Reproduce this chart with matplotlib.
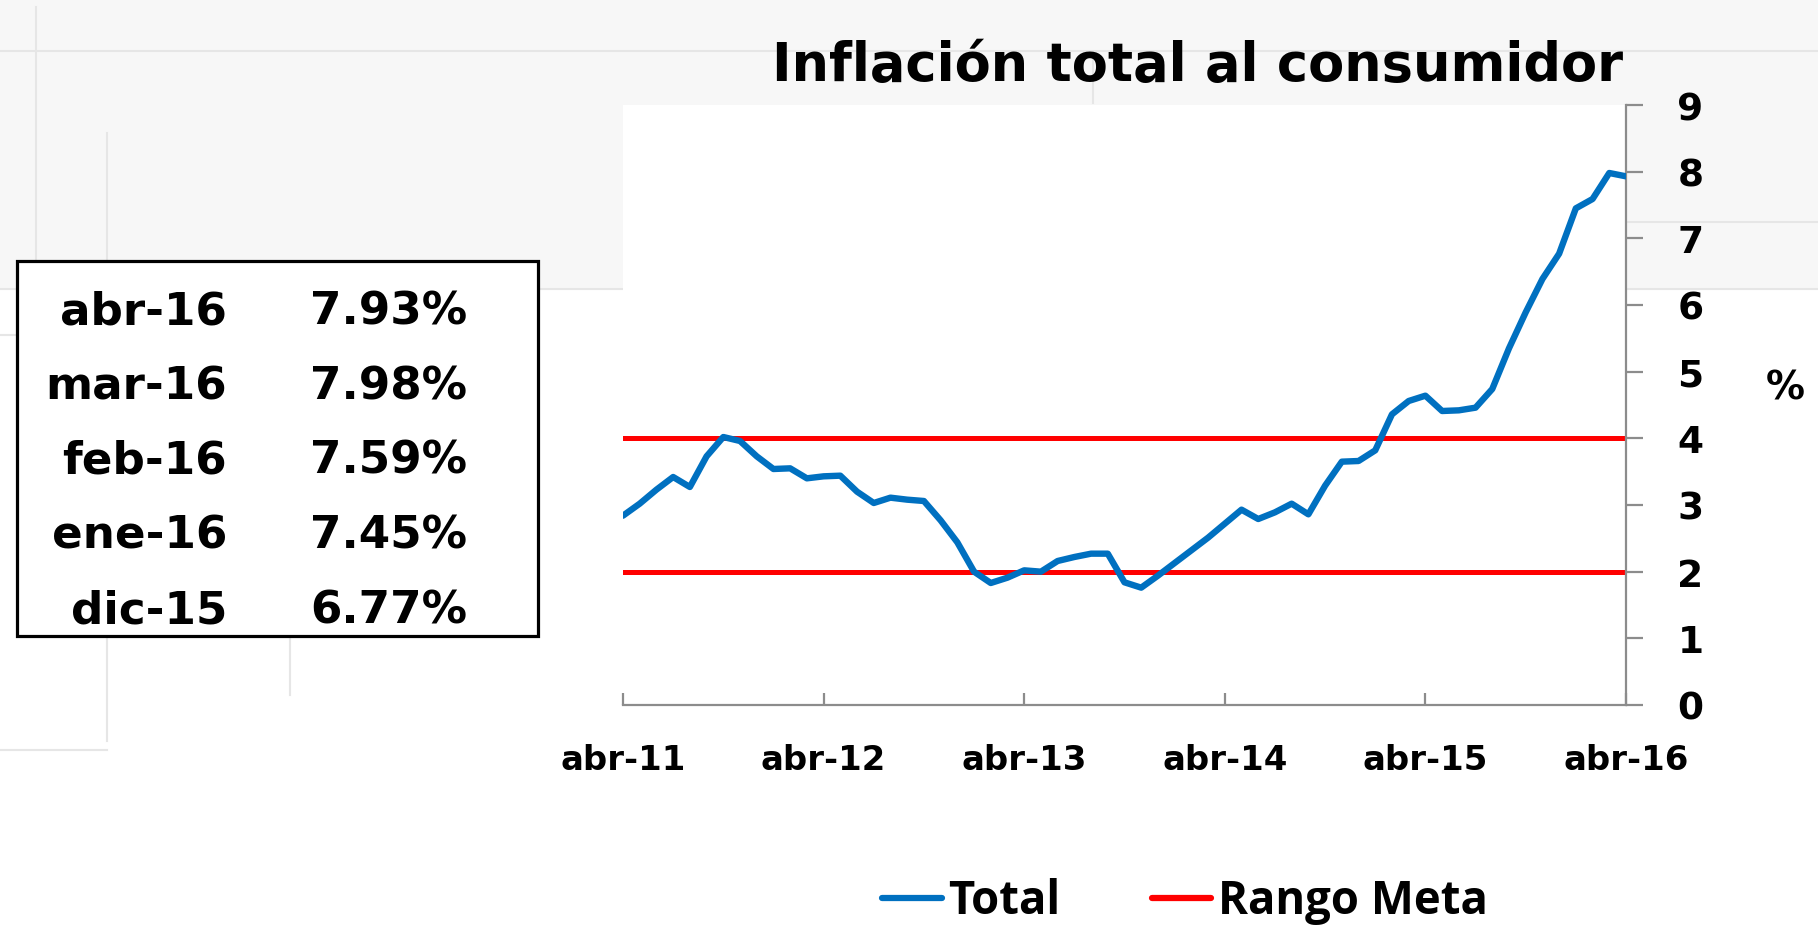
import matplotlib
matplotlib.use("Agg")
import matplotlib.pyplot as plt
import numpy as np
from matplotlib.lines import Line2D
from matplotlib.patches import Rectangle

# monthly annual CPI inflation, abr-11 .. abr-16
inflacion = [
    2.84, 3.02, 3.23, 3.42, 3.27, 3.73, 4.02, 3.96, 3.73,
    3.54, 3.55, 3.40, 3.43, 3.44, 3.20, 3.03, 3.11, 3.08, 3.06, 2.77, 2.44,
    2.00, 1.83, 1.91, 2.02, 2.00, 2.16, 2.22, 2.27, 2.27, 1.84, 1.76, 1.94,
    2.13, 2.32, 2.51, 2.72, 2.93, 2.79, 2.89, 3.02, 2.86, 3.29, 3.65, 3.66,
    3.82, 4.36, 4.56, 4.64, 4.41, 4.42, 4.46, 4.74, 5.35, 5.89, 6.39, 6.77,
    7.45, 7.59, 7.98, 7.93,
]
rango_meta = [2, 4]
x_ticks = [0, 12, 24, 36, 48, 60]
x_labels = ["abr-11", "abr-12", "abr-13", "abr-14", "abr-15", "abr-16"]
y_ticks = list(range(0, 10))
tabla_meses = ["abr-16", "mar-16", "feb-16", "ene-16", "dic-15"]

W, H = 1818, 937
fig = plt.figure(figsize=(W / 100, H / 100), dpi=100)
fig.patch.set_facecolor("white")

def fx(px):
    return px / W

def fy(py):
    return 1 - py / H

# slide background: light gray top band and faint lines (behind the axes)
fig.add_artist(Rectangle((0, fy(290)), 1, 1 - fy(290), transform=fig.transFigure,
                         facecolor="#f7f7f7", edgecolor="none", zorder=-2))
bg = "#e6e6e6"
for (x0, y0, x1, y1) in [(0, 52, W, 52), (0, 290, W, 290), (1627, 223, W, 223),
                         (36, 8, 36, 400), (107, 134, 107, 742), (0, 336, 36, 336),
                         (0, 751, 107, 751), (290, 632, 290, 696), (1093, 59, 1093, 104)]:
    fig.add_artist(Line2D([fx(x0), fx(x1)], [fy(y0), fy(y1)], transform=fig.transFigure,
                          color=bg, lw=1.5, zorder=-1))

ax = fig.add_axes([fx(623), fy(706), fx(1626) - fx(623), fy(106) - fy(706)])
ax.set_facecolor("white")

meses = np.arange(len(inflacion))
ax.plot(meses, inflacion, color="#0070C0", lw=4.6, label="Total",
        solid_joinstyle="round", solid_capstyle="round", zorder=3)
for i, v in enumerate(rango_meta):
    ax.axhline(v, color="#FF0000", lw=3.6, label="Rango Meta" if i == 0 else None, zorder=2)

ax.set_xlim(0, len(inflacion) - 1)
ax.set_ylim(0, 9)
ax.set_xticks(x_ticks)
ax.set_xticklabels(x_labels)
ax.set_yticks(y_ticks)
ax.yaxis.tick_right()

for s in ["top", "left"]:
    ax.spines[s].set_visible(False)
for s in ["bottom", "right"]:
    ax.spines[s].set_color("#8c8c8c")
    ax.spines[s].set_linewidth(1.6)

ax.tick_params(axis="x", direction="in", length=9, width=1.6, color="#8c8c8c", pad=27,
               labelsize=24.4)
ax.tick_params(axis="y", direction="out", length=12, width=1.6, color="#8c8c8c", pad=25,
               labelsize=27)
for lab in ax.get_xticklabels() + ax.get_yticklabels():
    lab.set_fontweight("bold")
    lab.set_family("DejaVu Sans")
for lab in ax.get_yticklabels():
    lab.set_horizontalalignment("left")

fig.text(fx(1197), fy(81), "Inflación total al consumidor", ha="center", va="baseline",
         fontsize=37.9, fontweight="bold", family="DejaVu Sans")
fig.text(fx(1785), fy(388), "%", ha="center", va="center", fontsize=28,
         fontweight="bold", family="DejaVu Sans")

# summary box with the last five readings
fig.add_artist(Rectangle((fx(17), fy(637)), fx(538) - fx(17), fy(262) - fy(637),
                         transform=fig.transFigure, facecolor="white", edgecolor="black",
                         lw=2.3, zorder=2))
ultimos = inflacion[::-1][:len(tabla_meses)]
for i, (mes, val) in enumerate(zip(tabla_meses, ultimos)):
    yb = fy(325 + 74.5 * i)
    fig.text(fx(227), yb, mes, ha="right", va="baseline", fontsize=32.6,
             fontweight="bold", family="DejaVu Sans", zorder=3)
    fig.text(fx(310), yb, f"{val:.2f}%", ha="left", va="baseline", fontsize=32.6,
             fontweight="bold", family="DejaVu Sans", zorder=3)

leg = ax.legend(loc="center", bbox_to_anchor=(fx(1185), fy(902)), bbox_transform=fig.transFigure,
                ncol=2, frameon=False, handlelength=1.3, handletextpad=0.15, columnspacing=2.0,
                prop={"family": "Open Sans", "weight": "bold", "size": 32.8})
for h in leg.get_lines():
    h.set_linewidth(4.5)
    h.set_solid_capstyle("round")

fig.savefig("out.png", dpi=100, facecolor=fig.get_facecolor())
